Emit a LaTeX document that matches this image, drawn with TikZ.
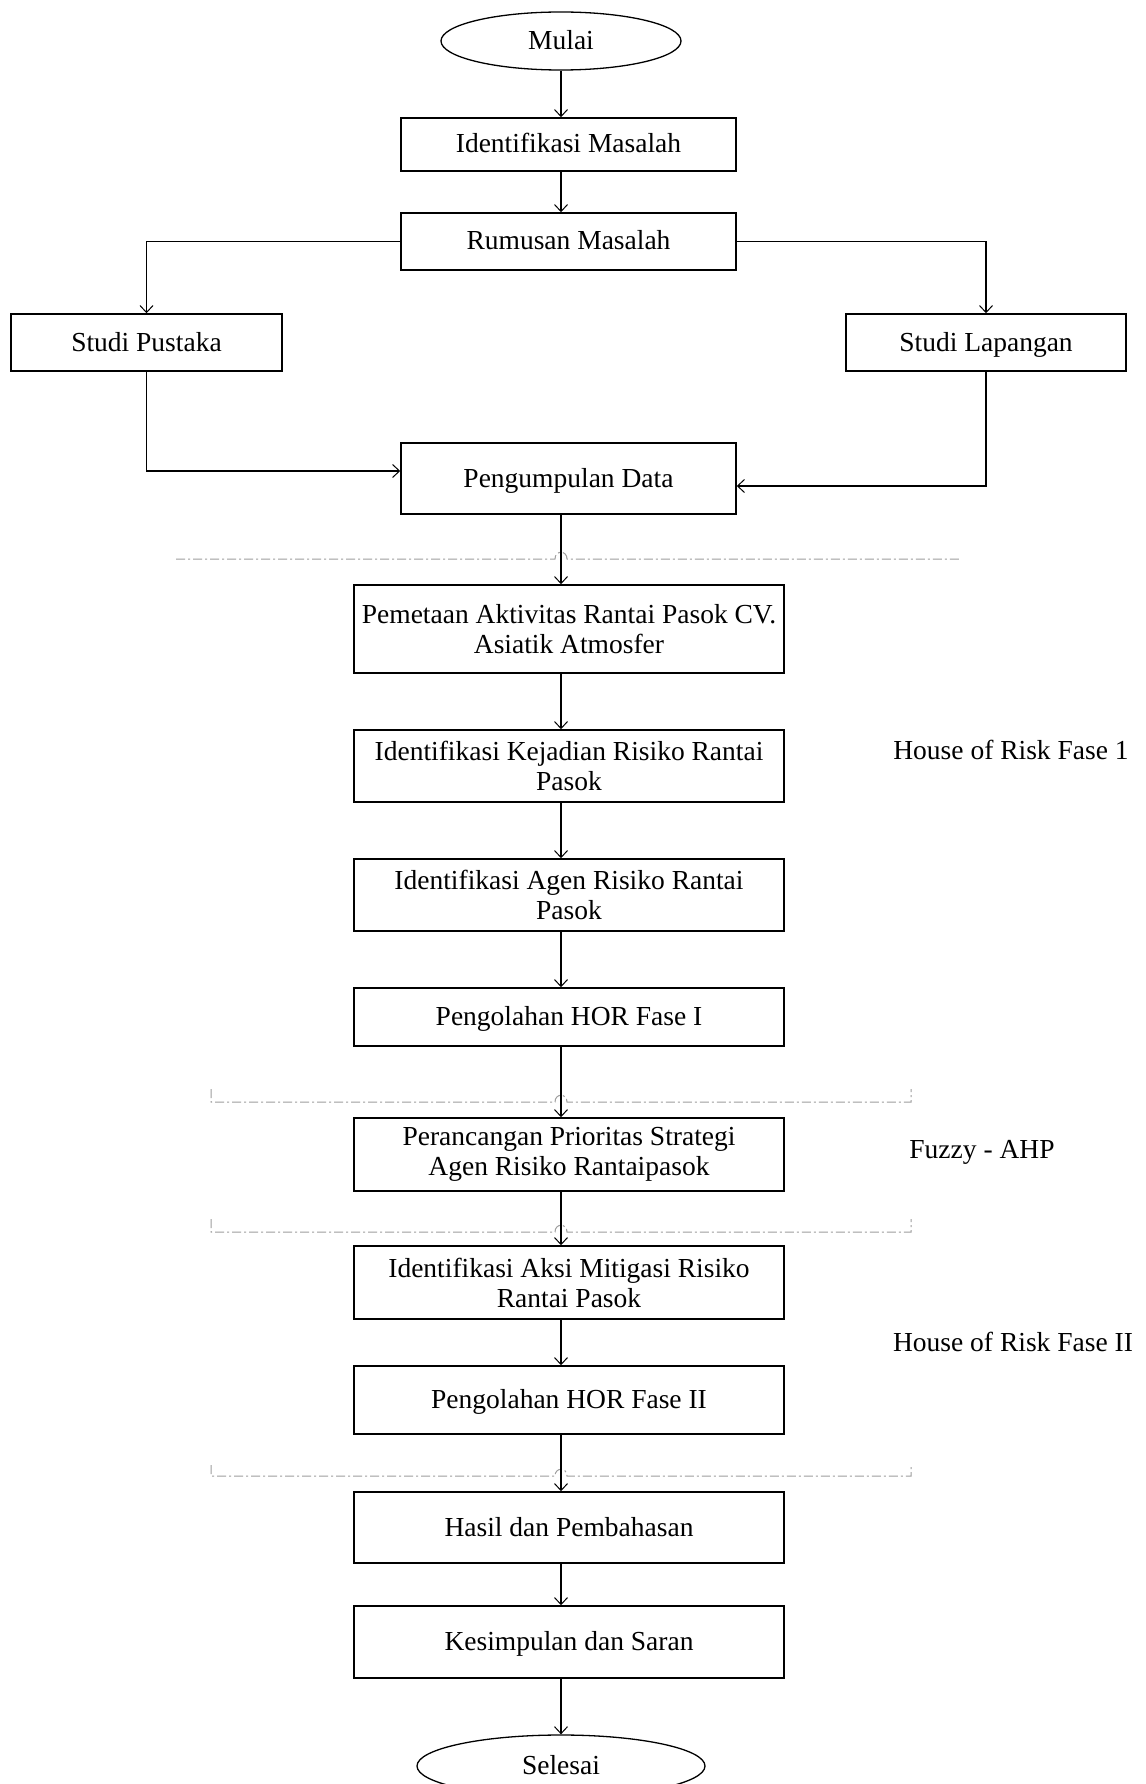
\documentclass[tikz,border=0pt]{standalone}
\usepackage{fontspec}
\setmainfont{Liberation Serif}
\usetikzlibrary{shapes.geometric,arrows.meta}
\begin{document}
\begin{tikzpicture}[x=1pt,y=-1pt,
  font=\fontsize{27.5}{30}\selectfont,
  box/.style={draw,line width=1.5pt,rectangle,align=center,inner sep=0pt},
  one/.style={text height=20pt,text depth=3pt},
  wbox/.style={box,minimum width=430pt},
  term/.style={draw,line width=1.3pt,ellipse,inner sep=0pt},
  arr/.style={line width=1.2pt,-{Straight Barb[length=7pt,width=13pt,line width=1pt]}},
  phase/.style={draw=black!38,line width=1pt,dash pattern=on 9pt off 3pt on 2pt off 3pt},
  tag/.style={inner sep=0pt}]
\useasboundingbox (0,0) rectangle (1145,1784);
\clip (0,0) rectangle (1145,1784);
\fill[white] (0,0) rectangle (1145,1784);

% main column axis for the vertical connectors
\coordinate (ax) at (561,0);

% terminals
\node[term,one,minimum width=240pt,minimum height=58pt] (mulai) at (561,41) {Mulai};
\node[term,one,minimum width=288pt,minimum height=62pt] (sel) at (561,1766) {Selesai};

% preparation stage
\node[box,one,minimum width=335pt,minimum height=53pt] (idm) at (568.5,144.5) {Identifikasi Masalah};
\node[box,one,minimum width=335pt,minimum height=57pt] (rum) at (568.5,241.5) {Rumusan Masalah};
\node[box,one,minimum width=271pt,minimum height=57pt] (sp) at (146.5,342.5) {Studi Pustaka};
\node[box,one,minimum width=280pt,minimum height=57pt] (sl) at (986,342.5) {Studi Lapangan};
\node[box,one,minimum width=335pt,minimum height=71pt] (pd) at (568.5,478.5) {Pengumpulan Data};

% processing stage
\node[wbox,minimum height=88pt] (pem) at (569,629) {Pemetaan Aktivitas Rantai Pasok CV.\\Asiatik Atmosfer};
\node[wbox,minimum height=72pt] (kej) at (569,766) {Identifikasi Kejadian Risiko Rantai\\Pasok};
\node[wbox,minimum height=72pt] (agen) at (569,895) {Identifikasi Agen Risiko Rantai\\Pasok};
\node[wbox,one,minimum height=58pt] (hor1) at (569,1017) {Pengolahan HOR Fase I};
\node[wbox,minimum height=73pt] (per) at (569,1154.5) {Perancangan Prioritas Strategi\\Agen Risiko Rantaipasok};
\node[wbox,minimum height=73pt] (aksi) at (569,1282.5) {Identifikasi Aksi Mitigasi Risiko\\Rantai Pasok};
\node[wbox,one,minimum height=68pt] (hor2) at (569,1400) {Pengolahan HOR Fase II};
\node[wbox,one,minimum height=71pt] (hasil) at (569,1527.5) {Hasil dan Pembahasan};
\node[wbox,one,minimum height=72pt] (kes) at (569,1642) {Kesimpulan dan Saran};

% phase labels
\node[tag,one] (lab1) at (1011,751) {House of Risk Fase 1};
\node[tag,one] (lab2) at (982,1150) {Fuzzy - AHP};
\node[tag,one] (lab3) at (1013,1343) {House of Risk Fase II};

% phase separators (with a small hop over the main connector)
\draw[phase] (176,559) -- (555,559) .. controls (555,550) and (567,550) .. (567,559) -- (960,559);
\draw[phase] (211,1089) -- (211,1102) -- (555,1102) .. controls (555,1093) and (567,1093) .. (567,1102) -- (911,1102) -- (911,1089);
\draw[phase] (211,1219) -- (211,1232) -- (555,1232) .. controls (555,1223) and (567,1223) .. (567,1232) -- (911,1232) -- (911,1219);
\draw[phase] (211,1465) -- (211,1476) -- (555,1476) .. controls (555,1467) and (567,1467) .. (567,1476) -- (911,1476) -- (911,1465);

% connectors
\draw[arr] (mulai.south) -- (idm.north -| ax);
\draw[arr] (idm.south -| ax) -- (rum.north -| ax);
\draw[arr] (rum.west) -| (sp.north);
\draw[arr] (rum.east) -| (sl.north);
\draw[arr] (sp.south) |- ([yshift=7.5pt]pd.west);
\draw[arr] (sl.south) |- ([yshift=-7.5pt]pd.east);
\draw[arr] (pd.south -| ax) -- (pem.north -| ax);
\draw[arr] (pem.south -| ax) -- (kej.north -| ax);
\draw[arr] (kej.south -| ax) -- (agen.north -| ax);
\draw[arr] (agen.south -| ax) -- (hor1.north -| ax);
\draw[arr] (hor1.south -| ax) -- (per.north -| ax);
\draw[arr] (per.south -| ax) -- (aksi.north -| ax);
\draw[arr] (aksi.south -| ax) -- (hor2.north -| ax);
\draw[arr] (hor2.south -| ax) -- (hasil.north -| ax);
\draw[arr] (hasil.south -| ax) -- (kes.north -| ax);
\draw[arr] (kes.south -| ax) -- (sel.north);
\end{tikzpicture}
\end{document}
